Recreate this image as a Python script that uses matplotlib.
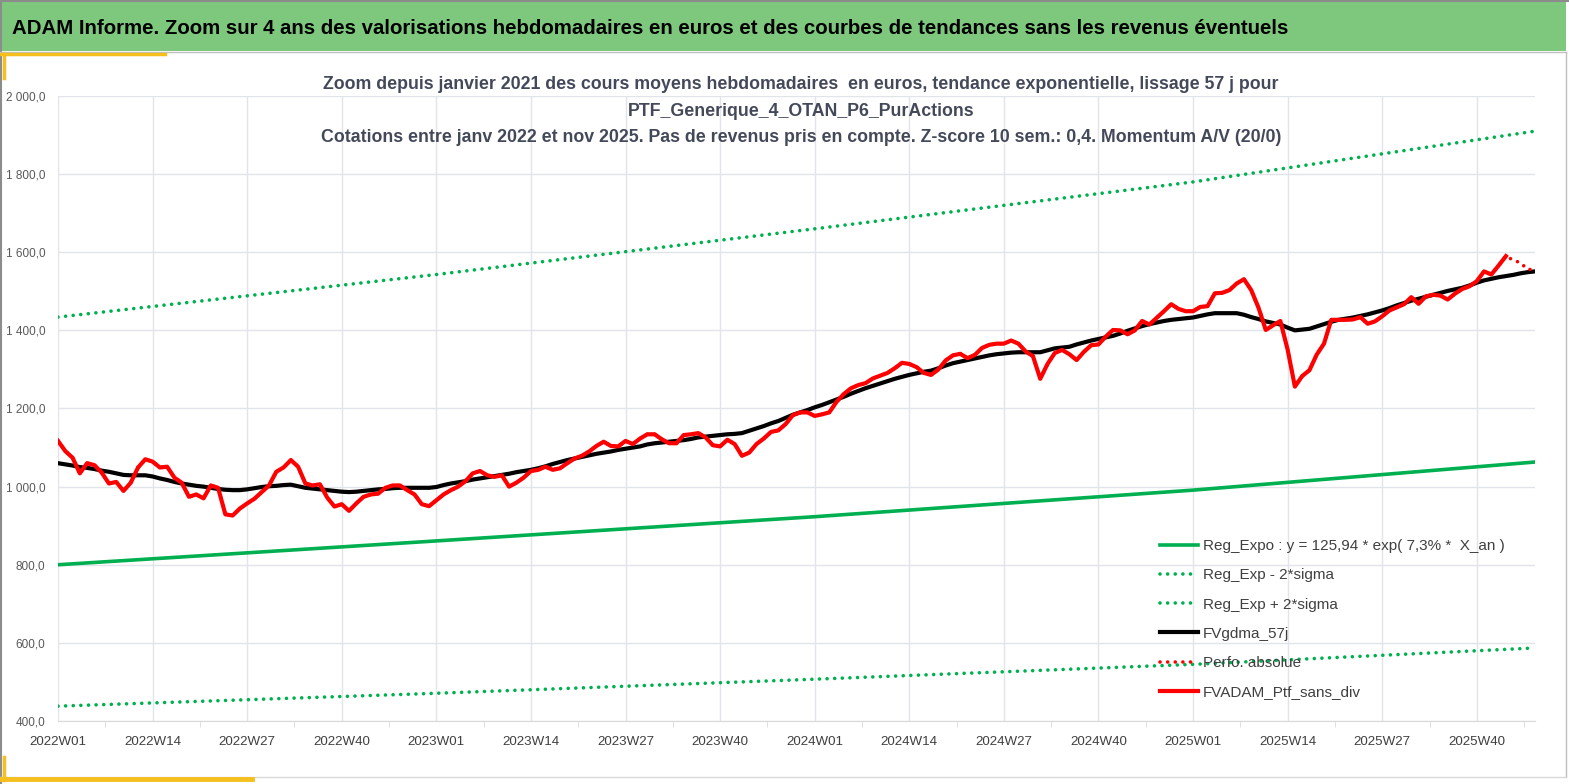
import matplotlib
matplotlib.use("Agg")
import matplotlib.pyplot as plt
from matplotlib.patches import Rectangle
from matplotlib.lines import Line2D
from matplotlib.ticker import FixedLocator, FuncFormatter

plt.rcParams['font.family'] = ['Liberation Sans', 'DejaVu Sans']

# ---------------------------
# Donnees
# ---------------------------
annees = [2022, 2023, 2024, 2025]
semaines = [f"{a}W{s:02d}" for a in annees for s in range(1, 53)][:204]

# FVADAM_Ptf_sans_div (semaines 0..199)
fvadam = [1117, 1091, 1074, 1034, 1060, 1055, 1036, 1008, 1012, 989,
          1010, 1049, 1070, 1064, 1049, 1051, 1023, 1010, 974, 980,
          970, 1003, 997, 929, 926, 944, 957, 969, 986, 1003,
          1038, 1049, 1068, 1051, 1008, 1003, 1006, 972, 949, 955,
          938, 957, 974, 980, 982, 997, 1003, 1003, 991, 980,
          955, 950, 965, 980, 991, 1000, 1014, 1034, 1040, 1029,
          1025, 1029, 1000, 1010, 1023, 1040, 1043, 1051, 1043, 1047,
          1060, 1072, 1079, 1090, 1104, 1115, 1104, 1103, 1117, 1109,
          1123, 1134, 1134, 1121, 1111, 1111, 1132, 1134, 1137, 1126,
          1106, 1103, 1120, 1109, 1079, 1087, 1109, 1123, 1140, 1144,
          1160, 1183, 1190, 1190, 1181, 1185, 1190, 1217, 1237, 1252,
          1260, 1265, 1277, 1284, 1291, 1303, 1317, 1314, 1306, 1291,
          1286, 1300, 1323, 1336, 1340, 1329, 1337, 1355, 1363, 1366,
          1366, 1374, 1366, 1346, 1334, 1276, 1314, 1342, 1350, 1339,
          1324, 1345, 1362, 1364, 1384, 1401, 1400, 1390, 1400, 1424,
          1415, 1432, 1449, 1467, 1455, 1449, 1449, 1460, 1462, 1495,
          1496, 1503, 1520, 1531, 1503, 1458, 1401, 1413, 1424, 1351,
          1256, 1283, 1298, 1338, 1366, 1427, 1427, 1427, 1428, 1434,
          1417, 1423, 1436, 1451, 1459, 1467, 1485, 1468, 1487, 1491,
          1489, 1479, 1494, 1506, 1513, 1526, 1551, 1543, 1566, 1590]

# Perfo. absolue : meme courbe, prolongee sur les dernieres semaines
perfo_fin = [1580, 1573, 1556, 1556]
perfo = fvadam + perfo_fin

# FVgdma_57j (semaines 0..203)
fvgdma = [1060, 1057, 1054, 1050, 1048, 1045, 1041, 1038, 1034, 1030,
          1029, 1029, 1029, 1026, 1021, 1017, 1012, 1008, 1005, 1002,
          1000, 997, 994, 992, 991, 991, 993, 996, 999, 1001,
          1002, 1004, 1005, 1001, 997, 995, 993, 991, 989, 987,
          986, 987, 989, 991, 993, 994, 996, 997, 997, 997,
          997, 997, 999, 1004, 1008, 1011, 1014, 1018, 1021, 1024,
          1027, 1030, 1033, 1037, 1040, 1043, 1047, 1052, 1058, 1063,
          1068, 1072, 1076, 1080, 1084, 1087, 1090, 1094, 1097, 1100,
          1103, 1108, 1111, 1113, 1115, 1117, 1119, 1122, 1126, 1128,
          1130, 1132, 1134, 1135, 1137, 1143, 1149, 1155, 1162, 1168,
          1176, 1184, 1190, 1196, 1203, 1209, 1216, 1223, 1230, 1238,
          1245, 1252, 1258, 1264, 1270, 1276, 1281, 1286, 1290, 1294,
          1297, 1303, 1310, 1316, 1320, 1324, 1328, 1332, 1336, 1339,
          1341, 1343, 1344, 1344, 1344, 1344, 1349, 1354, 1356, 1358,
          1364, 1369, 1374, 1378, 1382, 1386, 1392, 1399, 1405, 1411,
          1416, 1420, 1424, 1427, 1429, 1431, 1433, 1437, 1441, 1444,
          1444, 1444, 1444, 1440, 1434, 1429, 1423, 1419, 1415, 1407,
          1400, 1402, 1404, 1410, 1416, 1422, 1427, 1430, 1433, 1437,
          1441, 1446, 1451, 1457, 1464, 1470, 1476, 1481, 1486, 1491,
          1496, 1501, 1505, 1509, 1515, 1522, 1528, 1532, 1536, 1539,
          1542, 1546, 1549, 1551]

# tendances (valeurs lues a chaque debut d'annee et en fin de serie)
reg_semaines = [0, 52, 104, 156, 203]
reg_expo = [800, 861, 923, 991, 1063]
reg_moins = [438, 471, 507, 545, 587]
reg_plus = [1434, 1543, 1660, 1780, 1910]

titre = "ADAM Informe. Zoom sur 4 ans des valorisations hebdomadaires en euros et des courbes de tendances sans les revenus éventuels"
sous_titre = ("Zoom depuis janvier 2021 des cours moyens hebdomadaires  en euros, tendance exponentielle, lissage 57 j pour\n"
              "PTF_Generique_4_OTAN_P6_PurActions\n"
              "Cotations entre janv 2022 et nov 2025. Pas de revenus pris en compte. Z-score 10 sem.: 0,4. Momentum A/V (20/0)")

VERT = '#00B050'
JAUNE = '#F5BF1E'
GRIS_TXT = '#404040'

# ---------------------------
# Figure
# ---------------------------
W, H = 1569, 784
fig = plt.figure(figsize=(W / 100, H / 100), dpi=100)

def fx(px):
    return px / W

def fy(py):
    return 1 - py / H

# bandeau titre
fig.patches.append(Rectangle((fx(2), fy(51)), fx(1564), 49 / H, transform=fig.transFigure,
                             facecolor='#7DC87D', edgecolor='none', zorder=0))
fig.text(fx(12), fy(28), titre, fontsize=14.7, fontweight='bold', color='black',
         ha='left', va='center')

# cadres et filets
fig.add_artist(Line2D([fx(1), fx(1)], [0, 1], transform=fig.transFigure, color='#8C8C8C', lw=1.5))
fig.add_artist(Line2D([0, 1], [fy(1), fy(1)], transform=fig.transFigure, color='#8C8C8C', lw=1.5))
fig.add_artist(Line2D([fx(1566), fx(1566)], [fy(52), fy(777)], transform=fig.transFigure, color='#BFBFBF', lw=1))
fig.add_artist(Line2D([fx(0), fx(1566)], [fy(52), fy(52)], transform=fig.transFigure, color='#BFBFBF', lw=1))
fig.add_artist(Line2D([fx(0), fx(1566)], [fy(777), fy(777)], transform=fig.transFigure, color='#D9D9D9', lw=1))
fig.add_artist(Line2D([0, fx(165)], [fy(54), fy(54)], transform=fig.transFigure, color=JAUNE, lw=2.5))
fig.add_artist(Line2D([fx(4), fx(4)], [fy(54), fy(78)], transform=fig.transFigure, color=JAUNE, lw=2.5))
fig.add_artist(Line2D([0, fx(252)], [fy(779), fy(779)], transform=fig.transFigure, color=JAUNE, lw=3.5))
fig.add_artist(Line2D([fx(4), fx(4)], [fy(757), fy(780)], transform=fig.transFigure, color=JAUNE, lw=2.5))

fig.text(fx(801), fy(111), sous_titre, fontsize=12.8, fontweight='bold', color='#44495A',
         ha='center', va='center', linespacing=1.7)

# ---------------------------
# Axes
# ---------------------------
ax = fig.add_axes([fx(58), fy(721), fx(1535 - 58), (721 - 96) / H])
ax.set_facecolor('none')

x_all = list(range(len(semaines)))
ax.plot(reg_semaines, reg_expo, color=VERT, lw=2.6, label='Reg_Expo : y = 125,94 * exp( 7,3% *  X_an )', zorder=3)
ax.plot(reg_semaines, reg_moins, color=VERT, lw=2.6, linestyle=(0, (0.01, 2.1)),
        dash_capstyle='round', label='Reg_Exp - 2*sigma', zorder=3)
ax.plot(reg_semaines, reg_plus, color=VERT, lw=2.6, linestyle=(0, (0.01, 2.1)),
        dash_capstyle='round', label='Reg_Exp + 2*sigma', zorder=3)
ax.plot(x_all[:len(fvgdma)], fvgdma, color='black', lw=3, label='FVgdma_57j', zorder=4)
ax.plot(x_all[:len(perfo)], perfo, color='#FF0000', lw=2.6, linestyle=(0, (0.01, 2.1)),
        dash_capstyle='round', label='Perfo. absolue', zorder=5)
ax.plot(x_all[:len(fvadam)], fvadam, color='#FF0000', lw=3, label='FVADAM_Ptf_sans_div',
        solid_joinstyle='round', zorder=6)

ax.set_xlim(0, len(semaines) - 1)
ax.set_ylim(400, 2000)

pos = list(range(0, len(semaines), 13))
ax.xaxis.set_major_locator(FixedLocator(pos))
ax.xaxis.set_major_formatter(FuncFormatter(lambda v, p: semaines[int(round(v))]))
ax.xaxis.set_minor_locator(FixedLocator([p + 6.5 for p in pos]))
ax.set_yticks(range(400, 2001, 200))
ax.yaxis.set_major_formatter(FuncFormatter(
    lambda v, p: f"{v:,.1f}".replace(",", " ").replace(".", ",")))

ax.grid(True, which='major', color='#E1E4EA', lw=1)
ax.set_axisbelow(True)
for s in ['top', 'right', 'left']:
    ax.spines[s].set_visible(False)
ax.spines['bottom'].set_color('#D9D9D9')
ax.tick_params(axis='x', which='major', length=0, pad=11, labelsize=9.6, labelcolor=GRIS_TXT)
ax.tick_params(axis='x', which='minor', length=4, color='#D9D9D9', direction='out')
ax.tick_params(axis='y', length=0, pad=9, labelsize=8.5, labelcolor='#595959')

leg = ax.legend(loc='upper left', bbox_to_anchor=(fx(1160), fy(539)), bbox_transform=fig.transFigure,
                frameon=False, fontsize=11, handlelength=2.5, handletextpad=0.3,
                labelspacing=1.0, borderpad=0, borderaxespad=0)
for t in leg.get_texts():
    t.set_color(GRIS_TXT)

fig.savefig("out.png", dpi=100)
